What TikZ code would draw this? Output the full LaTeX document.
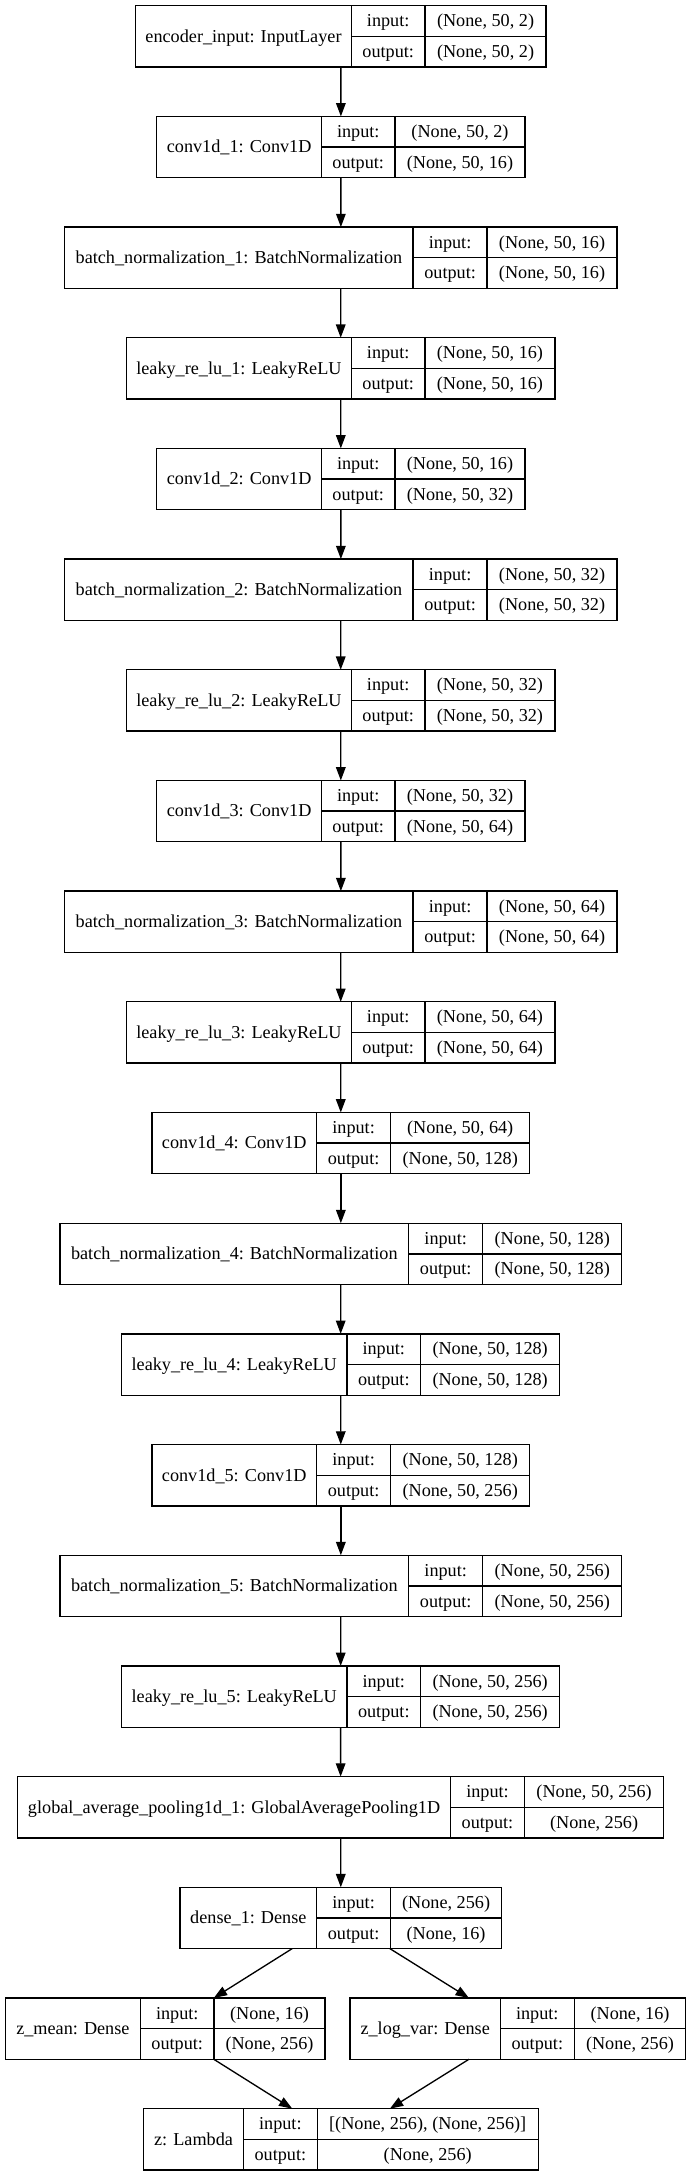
\documentclass[tikz,border=0pt]{standalone}
\usepackage{fontspec}
\setmainfont{Liberation Serif}
\usetikzlibrary{arrows.meta}

\tikzset{
  record/.style={rectangle, draw, line width=1.33pt, inner sep=0pt, outer sep=0pt, minimum height=61.3pt},
  celltext/.style={inner sep=0pt, text height=11.6pt, text depth=0pt},
}

% one keras layer: name, row, left, split 1, split 2, right, label, input, output
\newcommand{\kerasbox}[9]{%
  \pgfmathsetmacro{\rowy}{36.35+110.68*#2}%
  \node (#1) [record, minimum width={#6pt-#3pt}] at ({(#3+#6)/2}, \rowy) {};
  \draw[line width=1.33pt] (#1.north -| #4,0) -- (#1.south -| #4,0);
  \draw[line width=1.33pt] (#1.north -| #5,0) -- (#1.south -| #5,0);
  \draw[line width=1.33pt] (#1.center -| #4,0) -- (#1.east);
  \node (#1-name) [celltext] at ({(#3+#4)/2}, \rowy) {#7};
  \node (#1-in) [celltext] at ({(#4+#5)/2}, \rowy-15.33) {input:};
  \node (#1-out) [celltext] at ({(#4+#5)/2}, \rowy+15.33) {output:};
  \node (#1-inval) [celltext] at ({(#5+#6)/2}, \rowy-15.33) {#8};
  \node (#1-outval) [celltext] at ({(#5+#6)/2}, \rowy+15.33) {#9};
}

\begin{document}
\begin{tikzpicture}[x=1pt, y=-1pt, font=\fontsize{18.2pt}{20pt}\selectfont,
  >={Triangle[length=13.3pt, width=9.6pt]}]
  \path[fill=white] (0,0) rectangle (687,2176);
  % Nodes
  \kerasbox{enc}{0}{135.6}{351.4}{425.0}{546.1}{encoder\_input: InputLayer}{(None, 50, 2)}{(None, 50, 2)}
  \kerasbox{conv-1}{1}{156.8}{321.5}{395.0}{525.0}{conv1d\_1: Conv1D}{(None, 50, 2)}{(None, 50, 16)}
  \kerasbox{bn-1}{2}{64.7}{413.1}{487.1}{617.0}{batch\_normalization\_1: BatchNormalization}{(None, 50, 16)}{(None, 50, 16)}
  \kerasbox{lrelu-1}{3}{126.4}{351.4}{425.0}{554.9}{leaky\_re\_lu\_1: LeakyReLU}{(None, 50, 16)}{(None, 50, 16)}
  \kerasbox{conv-2}{4}{156.8}{321.5}{395.0}{525.0}{conv1d\_2: Conv1D}{(None, 50, 16)}{(None, 50, 32)}
  \kerasbox{bn-2}{5}{64.7}{413.1}{487.1}{617.0}{batch\_normalization\_2: BatchNormalization}{(None, 50, 32)}{(None, 50, 32)}
  \kerasbox{lrelu-2}{6}{126.4}{351.4}{425.0}{554.9}{leaky\_re\_lu\_2: LeakyReLU}{(None, 50, 32)}{(None, 50, 32)}
  \kerasbox{conv-3}{7}{156.8}{321.5}{395.0}{525.0}{conv1d\_3: Conv1D}{(None, 50, 32)}{(None, 50, 64)}
  \kerasbox{bn-3}{8}{64.7}{413.1}{487.1}{617.0}{batch\_normalization\_3: BatchNormalization}{(None, 50, 64)}{(None, 50, 64)}
  \kerasbox{lrelu-3}{9}{126.4}{351.4}{425.0}{554.9}{leaky\_re\_lu\_3: LeakyReLU}{(None, 50, 64)}{(None, 50, 64)}
  \kerasbox{conv-4}{10}{151.9}{316.6}{390.6}{529.8}{conv1d\_4: Conv1D}{(None, 50, 64)}{(None, 50, 128)}
  \kerasbox{bn-4}{11}{59.9}{408.7}{482.7}{621.8}{batch\_normalization\_4: BatchNormalization}{(None, 50, 128)}{(None, 50, 128)}
  \kerasbox{lrelu-4}{12}{121.5}{347.0}{420.6}{559.7}{leaky\_re\_lu\_4: LeakyReLU}{(None, 50, 128)}{(None, 50, 128)}
  \kerasbox{conv-5}{13}{151.9}{316.6}{390.6}{529.8}{conv1d\_5: Conv1D}{(None, 50, 128)}{(None, 50, 256)}
  \kerasbox{bn-5}{14}{59.9}{408.7}{482.7}{621.8}{batch\_normalization\_5: BatchNormalization}{(None, 50, 256)}{(None, 50, 256)}
  \kerasbox{lrelu-5}{15}{121.5}{347.0}{420.6}{559.7}{leaky\_re\_lu\_5: LeakyReLU}{(None, 50, 256)}{(None, 50, 256)}
  \kerasbox{gap}{16}{17.6}{450.5}{524.5}{663.7}{global\_average\_pooling1d\_1: GlobalAveragePooling1D}{(None, 50, 256)}{(None, 256)}
  \kerasbox{dense-1}{17}{180.1}{316.6}{390.6}{501.6}{dense\_1: Dense}{(None, 256)}{(None, 16)}
  \kerasbox{z-mean}{18}{5.3}{140.5}{214.0}{325.0}{z\_mean: Dense}{(None, 16)}{(None, 256)}
  \kerasbox{z-log-var}{18}{350.1}{500.3}{574.3}{685.7}{z\_log\_var: Dense}{(None, 16)}{(None, 256)}
  \kerasbox{z}{19}{143.6}{243.5}{317.2}{538.2}{z: Lambda}{[(None, 256), (None, 256)]}{(None, 256)}
  % Arrows
  \draw[->, line width=1.33pt] (enc) -- (conv-1);
  \draw[->, line width=1.33pt] (conv-1) -- (bn-1);
  \draw[->, line width=1.33pt] (bn-1) -- (lrelu-1);
  \draw[->, line width=1.33pt] (lrelu-1) -- (conv-2);
  \draw[->, line width=1.33pt] (conv-2) -- (bn-2);
  \draw[->, line width=1.33pt] (bn-2) -- (lrelu-2);
  \draw[->, line width=1.33pt] (lrelu-2) -- (conv-3);
  \draw[->, line width=1.33pt] (conv-3) -- (bn-3);
  \draw[->, line width=1.33pt] (bn-3) -- (lrelu-3);
  \draw[->, line width=1.33pt] (lrelu-3) -- (conv-4);
  \draw[->, line width=1.33pt] (conv-4) -- (bn-4);
  \draw[->, line width=1.33pt] (bn-4) -- (lrelu-4);
  \draw[->, line width=1.33pt] (lrelu-4) -- (conv-5);
  \draw[->, line width=1.33pt] (conv-5) -- (bn-5);
  \draw[->, line width=1.33pt] (bn-5) -- (lrelu-5);
  \draw[->, line width=1.33pt] (lrelu-5) -- (gap);
  \draw[->, line width=1.33pt] (gap) -- (dense-1);

  \draw[->, line width=1.33pt] (dense-1) -- (z-mean);
  \draw[->, line width=1.33pt] (dense-1) -- (z-log-var);
  \draw[->, line width=1.33pt] (z-mean) -- (z);
  \draw[->, line width=1.33pt] (z-log-var) -- (z);
\end{tikzpicture}
\end{document}
